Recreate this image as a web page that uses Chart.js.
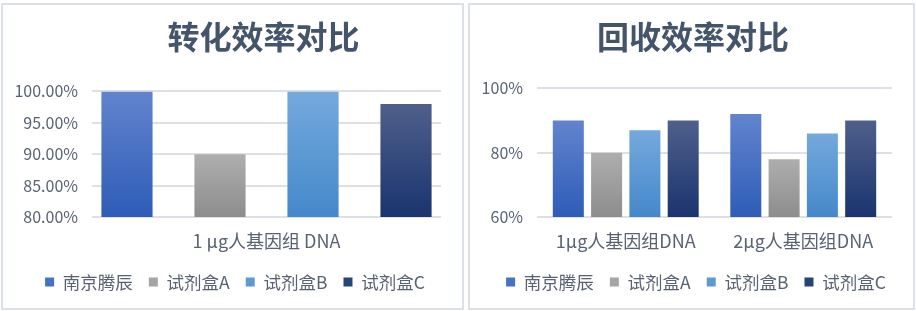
<!DOCTYPE html>
<html>
<head>
<meta charset="utf-8">
<script src="https://cdn.jsdelivr.net/npm/chart.js@4"></script>
<style>
  html, body { margin: 0; padding: 0; background: #ffffff; }
  .panel {
    position: absolute;
    top: 3px;
    height: 307px;
    box-sizing: border-box;
    border: 2px solid #dce1e7;
    background: #ffffff;
  }
  .panel canvas { display: block; }
</style>
</head>
<body>
<div class="panel" style="left:1px;width:463px;"><canvas id="convChart" width="459" height="303"></canvas></div>
<div class="panel" style="left:468px;width:447px;"><canvas id="recovChart" width="443" height="303"></canvas></div>
<script>
// 系列名称（图例）
const seriesNames = ['南京腾辰', '试剂盒A', '试剂盒B', '试剂盒C'];

// 转化效率（%）
const convCategories = ['1 μg人基因组 DNA'];
const convNanjing = [100];
const convKitA = [90];
const convKitB = [100];
const convKitC = [98];
const convTicks = { min: 80, max: 100, step: 5 };

// 回收效率（%）
const recovCategories = ['1μg人基因组DNA', '2μg人基因组DNA'];
const recovNanjing = [90, 92];
const recovKitA = [80, 78];
const recovKitB = [87, 86];
const recovKitC = [90, 90];
const recovTicks = { min: 60, max: 100, step: 20 };

// 柱子渐变色 [上, 下] 和图例色块
const barGradients = [
    ['#6284cd', '#2e5cb8'],
    ['#aeaeae', '#8d8d8d'],
    ['#74a9dd', '#4588ca'],
    ['#4f5f8a', '#1a346f']
];
const legendColors = ['#4472c4', '#a5a5a5', '#5b9bd5', '#264478'];

const FONT = '"Noto Sans CJK SC", "Microsoft YaHei", sans-serif';
const TEXT_COLOR = '#586273';
const TITLE_COLOR = '#44546a';
const GRID_COLOR = '#dde1e7';

// 标题和图例整体水平平移（不影响绘图区）
const boxShift = {
    id: 'boxShift',
    afterLayout(chart, args, opts) {
        const boxes = { legend: chart.legend, title: chart.titleBlock };
        Object.keys(boxes).forEach(key => {
            const box = boxes[key];
            const dx = opts[key] || 0;
            if (box && dx) {
                box.left += dx;
                box.right += dx;
            }
        });
    }
};

// 每根柱子从顶部到底部的渐变
function barFill(i) {
    return function (ctx) {
        const chart = ctx.chart;
        const area = chart.chartArea;
        if (ctx.type !== 'data' || !area) return legendColors[i];
        const top = chart.scales.y.getPixelForValue(ctx.raw);
        const g = chart.ctx.createLinearGradient(0, top, 0, area.bottom);
        g.addColorStop(0, barGradients[i][0]);
        g.addColorStop(1, barGradients[i][1]);
        return g;
    };
}

function makeDatasets(valueLists, barPct, catPct) {
    return valueLists.map((vals, i) => ({
        label: seriesNames[i],
        data: vals,
        backgroundColor: barFill(i),
        borderWidth: 0,
        barPercentage: barPct,
        categoryPercentage: catPct
    }));
}

function createChart(canvasId, opts) {
    return new Chart(document.getElementById(canvasId).getContext('2d'), {
        type: 'bar',
        data: {
            labels: opts.labels,
            datasets: makeDatasets(opts.values, opts.barPct, opts.catPct)
        },
        plugins: [boxShift],
        options: {
            responsive: false,
            animation: false,
            layout: {
                padding: { left: 0, right: 21, top: 0, bottom: 7.25 }
            },
            plugins: {
                boxShift: { legend: opts.legendShift, title: opts.titleShift },
                title: {
                    display: true,
                    text: opts.title,
                    color: TITLE_COLOR,
                    fullSize: opts.titleFull,
                    font: { family: FONT, size: 32, weight: 'bold', lineHeight: 1.2 },
                    padding: { top: 13, bottom: opts.titleGap }
                },
                legend: {
                    position: 'bottom',
                    labels: {
                        boxWidth: 9,
                        boxHeight: 9,
                        padding: 16,
                        color: TEXT_COLOR,
                        font: { family: FONT, size: 17.5 },
                        generateLabels: chart => chart.data.datasets.map((ds, i) => ({
                            text: ds.label,
                            fillStyle: legendColors[i],
                            strokeStyle: legendColors[i],
                            lineWidth: 0,
                            fontColor: TEXT_COLOR,
                            datasetIndex: i
                        }))
                    }
                },
                tooltip: { enabled: false }
            },
            scales: {
                x: {
                    grid: { display: false, drawTicks: false },
                    border: { display: false },
                    ticks: {
                        color: TEXT_COLOR,
                        padding: 13,
                        font: { family: FONT, size: 18 }
                    },
                    afterFit: scale => { scale.height = 40.25; }
                },
                y: {
                    min: opts.ticks.min,
                    max: opts.ticks.max,
                    border: { display: false },
                    grid: { color: GRID_COLOR, lineWidth: 2, drawTicks: false },
                    ticks: {
                        stepSize: opts.ticks.step,
                        padding: 14,
                        color: TEXT_COLOR,
                        font: { family: FONT, size: 16 },
                        callback: opts.tickFormat
                    },
                    afterFit: scale => { scale.width = opts.axisWidth; }
                }
            }
        }
    });
}

createChart('convChart', {
    title: '转化效率对比',
    titleFull: false,
    titleShift: -3,
    titleGap: 35,
    legendShift: 13,
    labels: convCategories,
    values: [convNanjing, convKitA, convKitB, convKitC],
    ticks: convTicks,
    tickFormat: v => v.toFixed(2) + '%',
    barPct: 0.55,
    catPct: 1.066,
    axisWidth: 89
});

createChart('recovChart', {
    title: '回收效率对比',
    titleFull: true,
    titleShift: 12,
    titleGap: 32,
    legendShift: 15,
    labels: recovCategories,
    values: [recovNanjing, recovKitA, recovKitB, recovKitC],
    ticks: recovTicks,
    tickFormat: v => v + '%',
    barPct: 0.81,
    catPct: 0.863,
    axisWidth: 67
});
</script>
</body>
</html>
